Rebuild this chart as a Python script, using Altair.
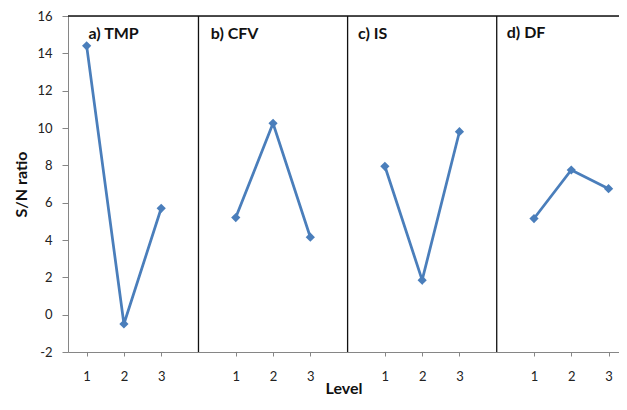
import altair as alt
import pandas as pd

factors = ["TMP", "CFV", "IS", "DF"]
levels = [1, 2, 3]
sn_tmp = [14.4, -0.5, 5.7]
sn_cfv = [5.2, 10.25, 4.15]
sn_is = [7.95, 1.85, 9.8]
sn_df = [5.15, 7.75, 6.75]
panel_labels = ["a) TMP", "b) CFV", "c) IS", "d) DF"]
label_x = [1.05, 4.33, 8.28, 12.27]
label_y = [15.05, 15.05, 15.05, 15.1]
separators = [4, 8, 12]
y_ticks = [-2, 0, 2, 4, 6, 8, 10, 12, 14, 16]
x_domain = [0.5, 15.28]
y_domain = [-2, 16]

series = [sn_tmp, sn_cfv, sn_is, sn_df]
rows = []
for i, (f, vals) in enumerate(zip(factors, series)):
    for lv, v in zip(levels, vals):
        rows.append({"factor": f, "level": lv, "pos": 4 * i + lv, "sn": v})
df = pd.DataFrame(rows)
x_ticks = sorted(df["pos"].tolist())

lab_df = pd.DataFrame({"label": panel_labels, "x": label_x, "y": label_y})
sep_df = pd.DataFrame({"x": separators, "y": [y_domain[0]] * 3,
                       "y2": [y_domain[1]] * 3})
top_df = pd.DataFrame({"x": [x_domain[0]], "x2": [x_domain[1]],
                       "y": [y_domain[1]]})

FONT = "Lato"
xscale = alt.Scale(domain=x_domain, nice=False, zero=False)
yscale = alt.Scale(domain=y_domain, nice=False, zero=False)

x_axis = alt.Axis(values=x_ticks, labelExpr="(datum.value - 1) % 4 + 1",
                  title="Level", grid=False, tickSize=4, labelPadding=14,
                  labelFontSize=13, labelFont=FONT, labelColor="#222",
                  labelOverlap=False,
                  domainColor="#868686", tickColor="#868686",
                  titleFont=FONT, titleFontSize=16, titleFontWeight="bold",
                  titleColor="#111", titleY=36, titleBaseline="middle")
y_axis = alt.Axis(values=y_ticks, labelExpr="toString(datum.value)",
                  title="S/N ratio", grid=False, tickSize=6,
                  labelPadding=10, labelFontSize=13, labelFont=FONT,
                  labelOverlap=False,
                  labelColor="#222", domainColor="#868686", tickColor="#868686",
                  titleFont=FONT, titleFontSize=16, titleFontWeight="bold",
                  titleColor="#111", titleX=-47, titleBaseline="middle")

base = alt.Chart(df)
lines = base.mark_line(color="#4a7ebb", strokeWidth=2.75).encode(
    x=alt.X("pos:Q", scale=xscale, axis=x_axis),
    y=alt.Y("sn:Q", scale=yscale, axis=y_axis),
    detail="factor:N")
points = base.mark_point(shape="diamond", filled=True, size=85,
                         color="#4a7ebb", opacity=1).encode(
    x=alt.X("pos:Q", scale=xscale, axis=x_axis),
    y=alt.Y("sn:Q", scale=yscale, axis=y_axis))

seps = alt.Chart(sep_df).mark_rule(color="#111", strokeWidth=1.3).encode(
    x=alt.X("x:Q", scale=xscale, axis=x_axis),
    y=alt.Y("y:Q", scale=yscale, axis=y_axis), y2="y2:Q")
top = alt.Chart(top_df).mark_rule(color="#111", strokeWidth=1.3).encode(
    x=alt.X("x:Q", scale=xscale, axis=x_axis), x2="x2:Q",
    y=alt.Y("y:Q", scale=yscale, axis=y_axis))
labels = alt.Chart(lab_df).mark_text(
    align="left", baseline="middle", font=FONT, fontSize=16,
    fontWeight="bold", color="#111").encode(
    x=alt.X("x:Q", scale=xscale, axis=x_axis),
    y=alt.Y("y:Q", scale=yscale, axis=y_axis), text="label:N")

chart = alt.layer(lines, points, seps, top, labels).properties(
    width=551, height=336,
    autosize=alt.AutoSizeParams(type="none"),
    padding={"left": 60, "top": 8, "right": 0, "bottom": 45},
).configure_view(stroke="#868686", strokeWidth=1).configure_axis(
    labelOverlap=False).configure(background="white")

chart.save("out.html", embed_options={"renderer": "svg", "actions": False})
